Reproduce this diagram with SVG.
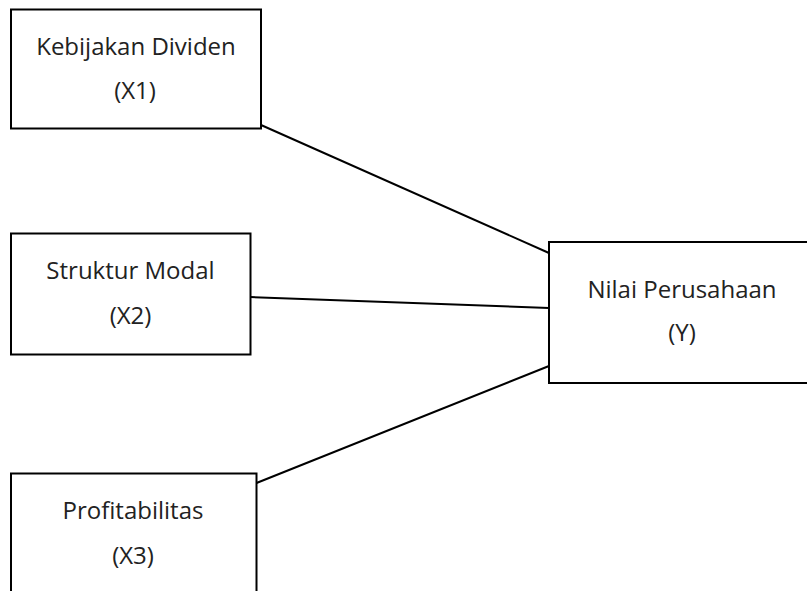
<svg xmlns="http://www.w3.org/2000/svg" width="807" height="591" viewBox="0 0 807 591">
<style>
.box{fill:#fff;stroke:#000;stroke-width:2}
.lbl{font-family:"Open Sans","Noto Sans",sans-serif;font-size:24px;fill:#222;text-anchor:middle}
.con{stroke:#000;stroke-width:2;fill:none}
</style>
<rect width="807" height="591" fill="#fff"/>
<g id="connectors">
<line class="con" x1="261" y1="125" x2="549" y2="253"/>
<line class="con" x1="250.5" y1="297" x2="549" y2="308"/>
<line class="con" x1="256.5" y1="483" x2="549" y2="366"/>
</g>
<g id="x1">
<rect class="box" x="11" y="9.5" width="250" height="119"/>
<text class="lbl" x="136" y="55">Kebijakan Dividen</text>
<text class="lbl" x="135" y="99">(X1)</text>
</g>
<g id="x2">
<rect class="box" x="11" y="233.5" width="239.5" height="121"/>
<text class="lbl" x="130.5" y="279">Struktur Modal</text>
<text class="lbl" x="130.5" y="324">(X2)</text>
</g>
<g id="x3">
<rect class="box" x="11" y="473.5" width="245.5" height="130"/>
<text class="lbl" x="133" y="519">Profitabilitas</text>
<text class="lbl" x="133" y="564">(X3)</text>
</g>
<g id="y">
<rect class="box" x="549" y="242" width="266" height="141"/>
<text class="lbl" x="682" y="298">Nilai Perusahaan</text>
<text class="lbl" x="682" y="341">(Y)</text>
</g>
</svg>
